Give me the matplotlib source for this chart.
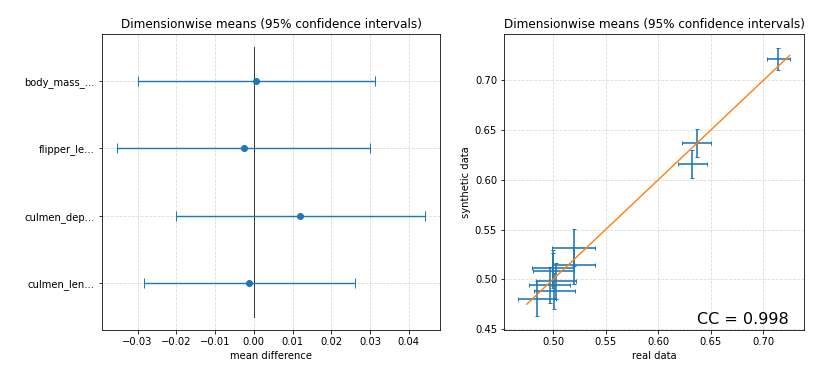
import matplotlib
matplotlib.use("Agg")
import matplotlib.pyplot as plt
import numpy as np

# ---- Left panel data: mean differences with 95% CI half-widths ----
dimensions = ["culmen_len...", "culmen_dep...", "flipper_le...", "body_mass_..."]
mean_diff = [-0.0011, 0.0120, -0.0026, 0.0007]
ci_halfwidth = [0.0271, 0.0321, 0.0326, 0.0307]

# ---- Right panel data: real vs synthetic dimension means ----
real_means = [0.7143, 0.6365, 0.6324, 0.5197, 0.5197, 0.4998, 0.5000,
              0.5030, 0.4968, 0.5010, 0.4848]
synth_means = [0.7218, 0.6369, 0.6161, 0.5319, 0.5140, 0.5110, 0.5088,
               0.4983, 0.4943, 0.4882, 0.4805]
real_err = [0.0111, 0.0140, 0.0140, 0.0204, 0.0203, 0.0198, 0.0195,
            0.0190, 0.0197, 0.0195, 0.0181]
synth_err = [0.0109, 0.0138, 0.0139, 0.0185, 0.0188, 0.0180, 0.0180,
             0.0180, 0.0180, 0.0180, 0.0173]
diag_range = [0.475, 0.725]
cc_value = 0.998

dpi = 72
fig = plt.figure(figsize=(830 / dpi, 379 / dpi), dpi=dpi)

W, H = 830, 379
ax1 = fig.add_axes([102 / W, 1 - 330 / H, 338 / W, 296 / H])
ax2 = fig.add_axes([504 / W, 1 - 330 / H, 300 / W, 296 / H])

# Left panel
ypos = np.arange(len(dimensions))
ax1.errorbar(mean_diff, ypos, xerr=ci_halfwidth, fmt="o", color="tab:blue",
             capsize=5, markersize=6, elinewidth=1.4, zorder=3)
ax1.plot([0, 0], [ypos[0] - 0.5, ypos[-1] + 0.5], color="black", lw=1,
         alpha=0.75, zorder=2)
ax1.set_yticks(ypos)
ax1.set_yticklabels(dimensions)
ax1.set_xticks([-0.03, -0.02, -0.01, 0.0, 0.01, 0.02, 0.03, 0.04])
ax1.set_xlabel("mean difference")
ax1.set_title("Dimensionwise means (95% confidence intervals)")
ax1.grid(True, linestyle="--", color="#cccccc", alpha=0.7)
ax1.set_axisbelow(True)

# Right panel
ax2.errorbar(real_means, synth_means, xerr=real_err, yerr=synth_err,
             fmt="none", ecolor="tab:blue", capsize=2, elinewidth=1.6, zorder=3)
ax2.plot(diag_range, diag_range, color="tab:orange", lw=1.4, zorder=4)
ax2.set_xlim(0.4533, 0.7387)
ax2.set_ylim(0.449, 0.7466)
ax2.set_xticks([0.50, 0.55, 0.60, 0.65, 0.70])
ax2.set_yticks([0.45, 0.50, 0.55, 0.60, 0.65, 0.70])
ax2.set_xlabel("real data")
ax2.set_ylabel("synthetic data")
ax2.set_title("Dimensionwise means (95% confidence intervals)")
ax2.grid(True, linestyle="--", color="#cccccc", alpha=0.7)
ax2.set_axisbelow(True)
ax2.text(0.95, 0.01, f"CC = {cc_value:.3f}", transform=ax2.transAxes,
         ha="right", va="bottom", fontsize=16)

fig.savefig("out.png", dpi=dpi)
